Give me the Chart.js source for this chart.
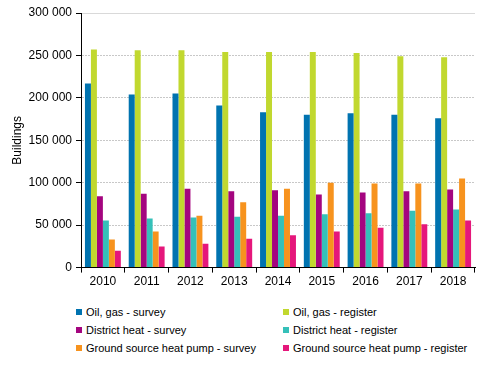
<!DOCTYPE html>
<html>
<head>
<meta charset="utf-8">
<script src="https://cdn.jsdelivr.net/npm/chart.js@4"></script>
<style>
  body { margin: 0; background: #fff; }
  #wrap { position: relative; width: 492px; height: 291px; }
  #legend { position: absolute; top: 306px; left: 76px; width: 410px; font: 11px "Liberation Sans", Arial, sans-serif; color: #000; }
  #legend div { position: absolute; white-space: nowrap; }
  #legend span { display: inline-block; width: 6px; height: 6px; margin-right: 4px; vertical-align: 1px; }
</style>
</head>
<body>
<div id="wrap"><canvas id="grafico"></canvas></div>
<div id="legend"></div>
<script>
const years = ['2010', '2011', '2012', '2013', '2014', '2015', '2016', '2017', '2018'];

const oilSurvey = [217000, 204000, 205000, 191000, 183000, 180000, 182000, 180000, 176000];
const oilRegister = [257000, 256000, 256000, 254000, 254000, 254000, 253000, 249000, 248000];
const districtSurvey = [84000, 87000, 93000, 90000, 91000, 86000, 88500, 90000, 92000];
const districtRegister = [55500, 58000, 59000, 60000, 61000, 63000, 64000, 67000, 68500];
const pumpSurvey = [33000, 42500, 61000, 77000, 93000, 100000, 99000, 99000, 105000];
const pumpRegister = [20000, 25000, 28000, 34000, 38000, 42500, 47000, 51000, 55500];

const series = [
  { label: 'Oil, gas - survey', color: '#0073b0', data: oilSurvey },
  { label: 'Oil, gas - register', color: '#c1d82f', data: oilRegister },
  { label: 'District heat - survey', color: '#a4057f', data: districtSurvey },
  { label: 'District heat - register', color: '#35c0b9', data: districtRegister },
  { label: 'Ground source heat pump - survey', color: '#f7931e', data: pumpSurvey },
  { label: 'Ground source heat pump - register', color: '#e5177b', data: pumpRegister }
];

const fmt = v => String(v).replace(/\B(?=(\d{3})+(?!\d))/g, ' ');

const config = {
  type: 'bar',
  data: {
    labels: years,
    datasets: series.map(s => ({
      label: s.label,
      data: s.data,
      backgroundColor: s.color,
      categoryPercentage: 0.82,
      barPercentage: 1
    }))
  },
  options: {
    responsive: true,
    maintainAspectRatio: false,
    animation: false,
    layout: { padding: { left: 8, right: 17, top: 13, bottom: 0 } },
    plugins: {
      legend: { display: false },
      tooltip: { enabled: false }
    },
    scales: {
      x: {
        grid: { drawOnChartArea: false, color: '#000', tickLength: 5, offset: true },
        border: { color: '#000', width: 1 },
        ticks: { color: '#000', font: { family: 'Liberation Sans', size: 12 }, maxRotation: 0, padding: 2 }
      },
      y: {
        min: 0,
        max: 300000,
        afterFit(scale) { scale.width = 73; },
        ticks: {
          stepSize: 50000,
          color: '#000',
          font: { family: 'Liberation Sans', size: 12 },
          padding: 4,
          callback: v => fmt(v)
        },
        grid: {
          color: ctx => ctx.tick && ctx.tick.value === 300000 ? '#d9d9d9' : '#c8c8c8',
          tickColor: '#000',
          tickLength: 5
        },
        border: { color: '#000', width: 1, dash: ctx => ctx.tick && ctx.tick.value === 300000 ? [] : [2, 1] },
        title: {
          display: true,
          text: 'Buildings',
          color: '#000',
          font: { family: 'Liberation Sans', size: 12 },
          padding: 2
        }
      }
    }
  }
};

new Chart(document.getElementById('grafico').getContext('2d'), config);

// Leyenda en dos columnas
const legend = document.getElementById('legend');
series.forEach((s, i) => {
  const d = document.createElement('div');
  d.style.left = (i % 2 ? 207 : 0) + 'px';
  d.style.top = (Math.floor(i / 2) * 18) + 'px';
  d.innerHTML = '<span style="background:' + s.color + '"></span>' + s.label;
  legend.appendChild(d);
});
</script>
</body>
</html>
